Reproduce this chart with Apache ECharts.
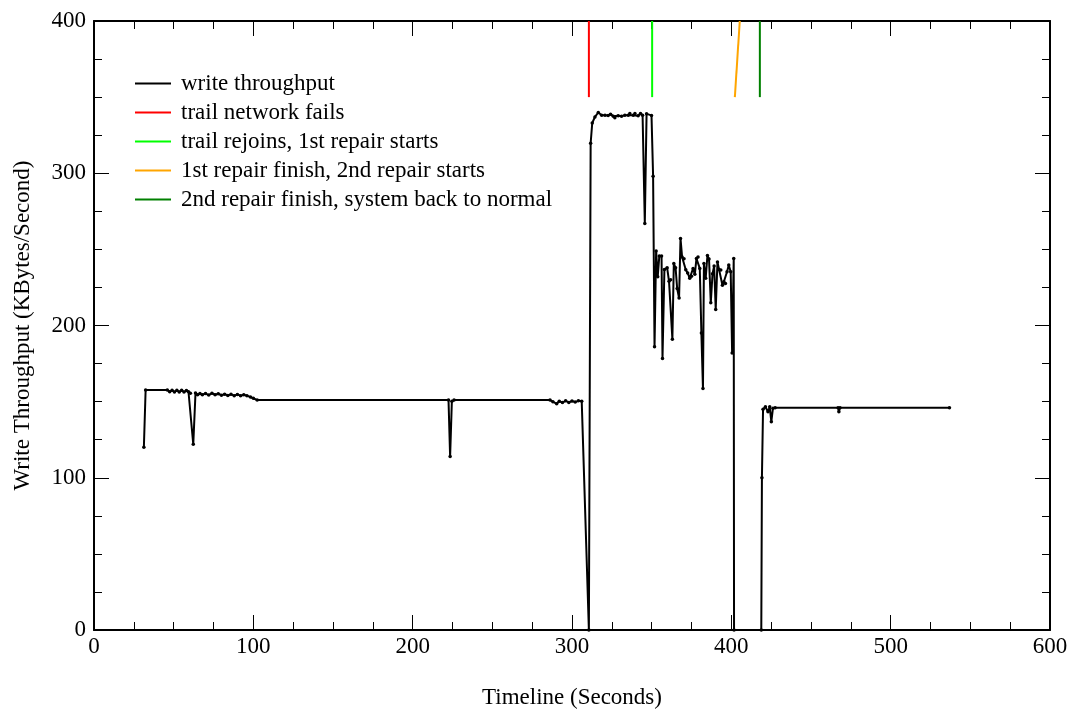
<!DOCTYPE html>
<html>
<head>
<meta charset="utf-8">
<title>Write Throughput</title>
<script src="https://cdn.jsdelivr.net/npm/echarts@6/dist/echarts.min.js"></script>
<style>
  html, body { margin: 0; padding: 0; background: #fff; }
  #chart { width: 1075px; height: 716px; }
</style>
</head>
<body>
<div id="chart"></div>
<script>
// [seconds, KBytes/s]
const writeThroughput = [
  [31.3, 120], [32.4, 157.6], [46, 157.6], [47.5, 156.5], [49, 157.4], [50.5, 156.3], [52, 157.4],
  [53.5, 156.3], [55, 157.4], [56.5, 156.3], [58, 157.3], [59.3, 156.5], [60.5, 155.5],
  [62.3, 122], [63.7, 155.6], [65, 154.5], [66.5, 155.3], [68, 154.5], [70, 155.3], [72, 154.3],
  [74, 155.5], [76, 154.5], [78, 155.2], [80, 154.2], [82, 154.9], [84, 154], [86, 154.8],
  [88, 153.9], [90, 154.7], [92, 153.9], [94, 154.5], [96, 153.9], [98.2, 153], [100, 152.2],
  [102.4, 151], [222.5, 151], [223.5, 114], [224.6, 150.3], [226, 151], [286.2, 151],
  [288, 150], [290.4, 148.6], [292, 150.2], [294, 149.4], [296, 150.5], [298, 149.5],
  [300, 150.4], [302, 149.7], [304, 150.5], [306.1, 150.3], [310.6, 0],
  [311.7, 319.7], [312.7, 333], [314.4, 337], [316.5, 339.9], [318.6, 338.1], [320.7, 338.1],
  [322.7, 338], [324.2, 338.8], [325.9, 337.5], [326.9, 336.4], [329, 337.7], [331.1, 337.5],
  [333.2, 338.1], [335.3, 338.1], [336.3, 339.2], [338.4, 338.1], [339.5, 339.2], [341.5, 337.7],
  [343, 339.2], [344.3, 338.1], [345.7, 267], [346.8, 339], [349.9, 338], [350.9, 298],
  [351.8, 186], [352.8, 249], [353.8, 232], [354.8, 245.6], [356.2, 245.6], [356.8, 178.4],
  [358, 236.8], [359.7, 238], [360.9, 229], [361.9, 230], [363, 191], [363.9, 240.7],
  [365, 238], [366, 224.3], [367.2, 218], [368.1, 257.2], [369.1, 245], [370.3, 243.8],
  [371.4, 236.6], [372.6, 234.5], [373.9, 231], [375, 232.3], [376, 237.5], [377.1, 233.6],
  [378.1, 244], [379.1, 245], [380.2, 237.5], [381.2, 195], [382.2, 158.7], [382.8, 240.7],
  [383.9, 231], [385, 246], [386, 243.6], [387.1, 215], [388.2, 234], [389.2, 239],
  [390.2, 210.5], [391.3, 241.7], [392.3, 236.8], [393.4, 236.4], [394.4, 226.5], [395.3, 228.7],
  [396.3, 227.6], [397.3, 235.3], [398.4, 239.7], [399.6, 235.3], [400.5, 182], [401.5, 244],
  [401.7, 0], [418.8, 0],
  [419.2, 100], [419.9, 145], [421.4, 146.6], [423, 143.3], [424.1, 146.6], [425.1, 136.8],
  [426.1, 145.6], [427.5, 146], [467, 146], [467.5, 143.3], [468.2, 146], [536.9, 146]
]

// event markers: [seconds, KBytes/s] end points
const trailFails = [[310.6, 350], [310.6, 400]]
const trailRejoins = [[350.3, 350], [350.3, 400]]
const firstRepairFinish = [[402.2, 350], [405.3, 400]]
const secondRepairFinish = [[417.9, 350], [417.9, 400]]

const xTicks = { min: 0, max: 600, interval: 100 }
const yTicks = { min: 0, max: 400, interval: 100 }

const font = 'Liberation Serif'

function frameAxis(t, extra) {
  return Object.assign({
    type: 'value',
    min: t.min,
    max: t.max,
    interval: t.interval,
    axisLine: { show: true, onZero: false, lineStyle: { color: '#000', width: 2 } },
    axisTick: { show: true, inside: true, length: 15, lineStyle: { color: '#000', width: 1 } },
    minorTick: { show: true, splitNumber: 4, length: 8, lineStyle: { color: '#000', width: 1 } },
    splitLine: { show: false },
    axisLabel: { show: false }
  }, extra)
}

function eventLine(name, data, color) {
  return {
    name: name,
    type: 'line',
    data: data,
    symbol: 'none',
    lineStyle: { color: color, width: 2 },
    itemStyle: { color: color },
    z: 3
  }
}

const chart = echarts.init(document.getElementById('chart'))
chart.setOption({
  animation: false,
  textStyle: { fontFamily: font, color: '#000' },
  grid: { left: 94, right: 25, top: 21, bottom: 86 },
  legend: {
    orient: 'vertical',
    left: 130,
    top: 67,
    icon: 'rect',
    itemWidth: 36,
    itemHeight: 2,
    itemGap: 6,
    textStyle: { fontFamily: font, fontSize: 23, color: '#000', padding: [0, 0, 0, 5] },
    data: [
      'write throughput',
      'trail network fails',
      'trail rejoins, 1st repair starts',
      '1st repair finish, 2nd repair starts',
      '2nd repair finish, system back to normal'
    ]
  },
  xAxis: [
    frameAxis(xTicks, {
      position: 'bottom',
      name: 'Timeline (Seconds)',
      nameLocation: 'middle',
      nameGap: 56,
      nameTextStyle: { fontFamily: font, fontSize: 23, color: '#000' },
      axisLabel: { show: true, fontFamily: font, fontSize: 23, color: '#000', margin: 5 }
    }),
    frameAxis(xTicks, { position: 'top' })
  ],
  yAxis: [
    frameAxis(yTicks, {
      position: 'left',
      name: 'Write Throughput (KBytes/Second)',
      nameLocation: 'middle',
      nameGap: 60,
      nameTextStyle: { fontFamily: font, fontSize: 23, color: '#000' },
      axisLabel: { show: true, fontFamily: font, fontSize: 23, color: '#000', margin: 8 }
    }),
    frameAxis(yTicks, { position: 'right' })
  ],
  series: [
    {
      name: 'write throughput',
      type: 'line',
      data: writeThroughput,
      symbol: 'circle',
      symbolSize: 3.5,
      lineStyle: { color: '#000', width: 2 },
      itemStyle: { color: '#000' },
      z: 2
    },
    eventLine('trail network fails', trailFails, '#ff0000'),
    eventLine('trail rejoins, 1st repair starts', trailRejoins, '#00ff00'),
    eventLine('1st repair finish, 2nd repair starts', firstRepairFinish, '#ffa500'),
    eventLine('2nd repair finish, system back to normal', secondRepairFinish, '#008000')
  ]
})
</script>
</body>
</html>
